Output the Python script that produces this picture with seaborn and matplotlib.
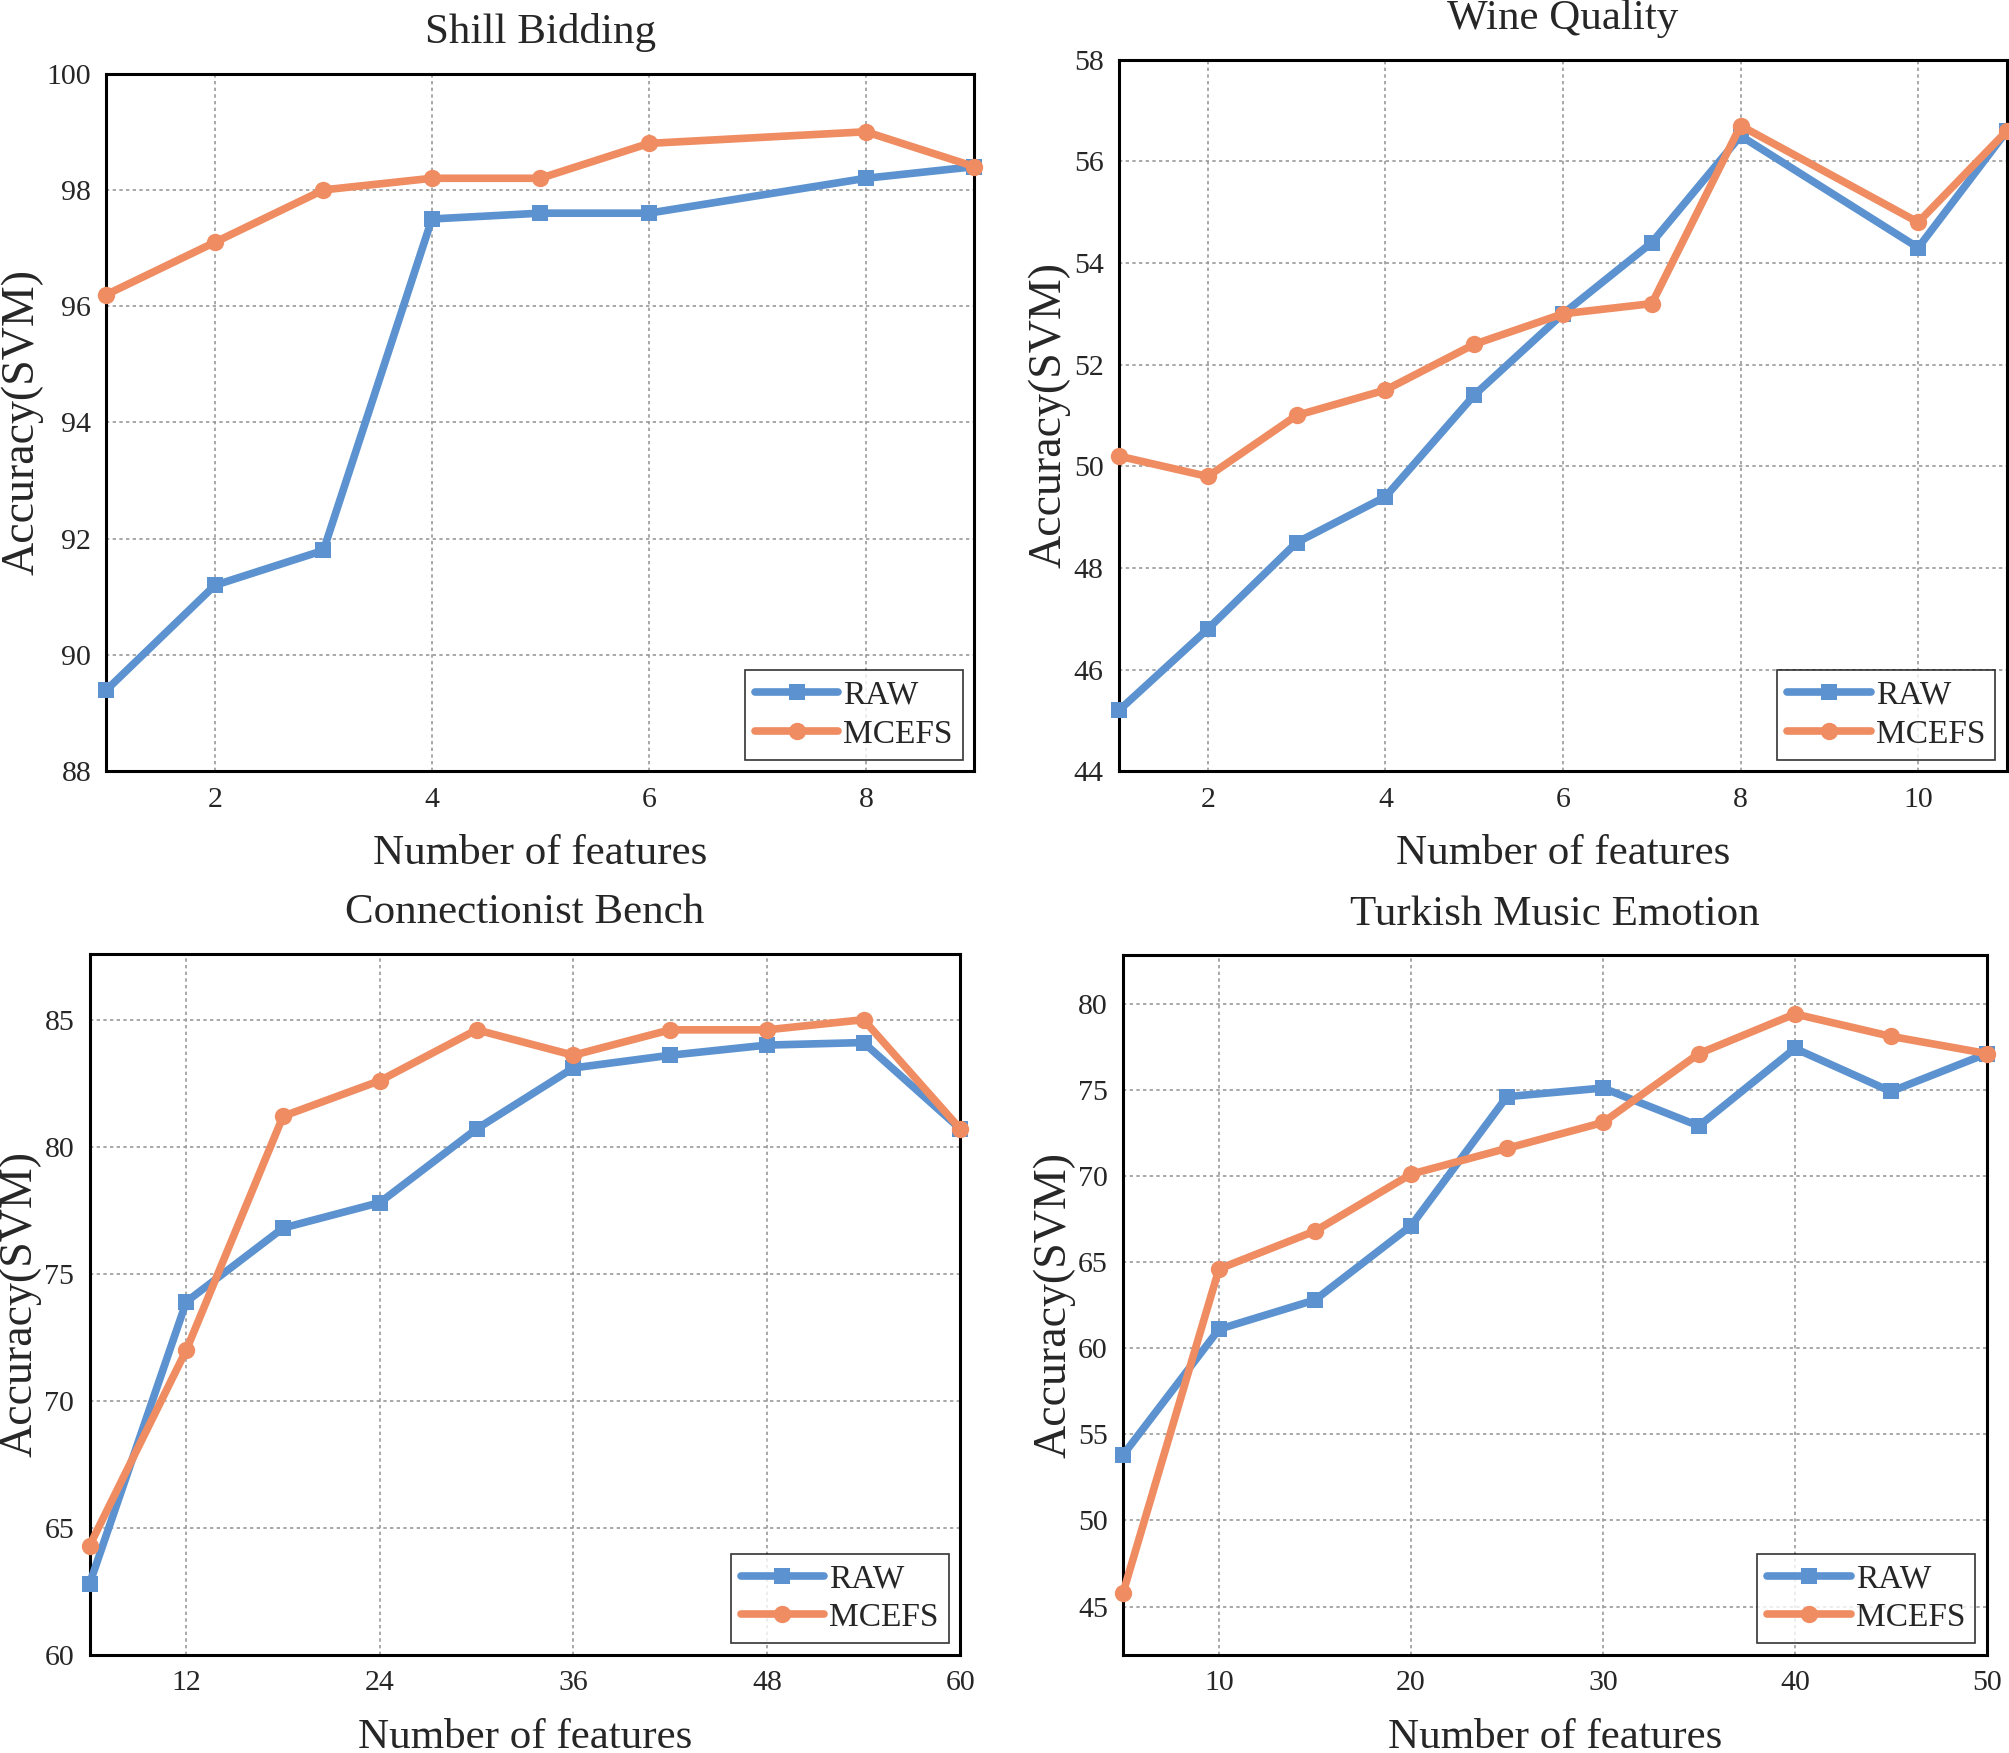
import pandas as pd
import seaborn as sns
import matplotlib.pyplot as plt

# Shill Bidding
shill_x = [1, 2, 3, 4, 5, 6, 8, 9]
shill_raw = [89.4, 91.2, 91.8, 97.5, 97.6, 97.6, 98.2, 98.4]
shill_mcefs = [96.2, 97.1, 98.0, 98.2, 98.2, 98.8, 99.0, 98.4]

# Wine Quality
wine_x = [1, 2, 3, 4, 5, 6, 7, 8, 10, 11]
wine_raw = [45.2, 46.8, 48.5, 49.4, 51.4, 53.0, 54.4, 56.5, 54.3, 56.6]
wine_mcefs = [50.2, 49.8, 51.0, 51.5, 52.4, 53.0, 53.2, 56.7, 54.8, 56.6]

# Connectionist Bench
conn_x = [6, 12, 18, 24, 30, 36, 42, 48, 54, 60]
conn_raw = [62.8, 73.9, 76.8, 77.8, 80.7, 83.1, 83.6, 84.0, 84.1, 80.7]
conn_mcefs = [64.3, 72.0, 81.2, 82.6, 84.6, 83.6, 84.6, 84.6, 85.0, 80.7]

# Turkish Music Emotion
turk_x = [5, 10, 15, 20, 25, 30, 35, 40, 45, 50]
turk_raw = [53.8, 61.1, 62.8, 67.1, 74.6, 75.1, 72.9, 77.4, 74.9, 77.1]
turk_mcefs = [45.8, 64.6, 66.8, 70.1, 71.6, 73.1, 77.1, 79.4, 78.1, 77.1]

blue = "#5b92cf"
orange = "#ef8c61"

sns.set_style("white")
plt.rcParams['font.family'] = ['Liberation Serif', 'DejaVu Serif']

fig = plt.figure(figsize=(20.09, 17.53), dpi=100)

panels = [
    # title, x, raw, mcefs, rect, xlim, ylim, xticks, yticks
    ("Shill Bidding", shill_x, shill_raw, shill_mcefs,
     [0.053, 0.560, 0.432, 0.398], (1, 9), (88, 100), [2, 4, 6, 8], range(88, 101, 2)),
    ("Wine Quality", wine_x, wine_raw, wine_mcefs,
     [0.557, 0.560, 0.442, 0.406], (1, 11), (44, 58), [2, 4, 6, 8, 10], range(44, 59, 2)),
    ("Connectionist Bench", conn_x, conn_raw, conn_mcefs,
     [0.0446, 0.056, 0.4334, 0.400], (6, 60), (60, 87.6), [12, 24, 36, 48, 60], range(60, 86, 5)),
    ("Turkish Music Emotion", turk_x, turk_raw, turk_mcefs,
     [0.559, 0.056, 0.430, 0.399], (5, 50), (42.2, 82.8), [10, 20, 30, 40, 50], range(45, 81, 5)),
]

for title, xs, raw, mcefs, rect, xlim, ylim, xticks, yticks in panels:
    ax = fig.add_axes(rect)
    df = pd.DataFrame({"x": xs, "RAW": raw, "MCEFS": mcefs})
    sns.lineplot(data=df, x="x", y="RAW", ax=ax, color=blue, marker="s",
                 markersize=12, markeredgewidth=0, linewidth=5.5, label="RAW",
                 clip_on=False, zorder=3)
    sns.lineplot(data=df, x="x", y="MCEFS", ax=ax, color=orange, marker="o",
                 markersize=12.5, markeredgewidth=0, linewidth=5.5, label="MCEFS",
                 clip_on=False, zorder=3)
    ax.set_xlim(*xlim)
    ax.set_ylim(*ylim)
    ax.set_xticks(xticks)
    ax.set_yticks(list(yticks))
    ax.grid(True, linestyle=(0, (2, 2)), color="#999999", linewidth=1.2)
    ax.tick_params(axis="both", length=0, labelsize=21.5, pad=11)
    for sp in ax.spines.values():
        sp.set_linewidth(2.2)
        sp.set_color("black")
    ax.set_title(title, fontsize=31, pad=22)
    ax.set_xlabel("Number of features", fontsize=31, labelpad=16)
    ax.set_ylabel("Accuracy(SVM)", fontsize=33, labelpad=2)
    leg = ax.legend(loc="lower right", fontsize=24, handlelength=2.5,
                    frameon=True, fancybox=False, borderaxespad=0.35,
                    handletextpad=0.15, borderpad=0.3, labelspacing=0.25)
    leg.get_frame().set_edgecolor("black")
    leg.get_frame().set_linewidth(1.2)

fig.savefig("out.png", dpi=100)
